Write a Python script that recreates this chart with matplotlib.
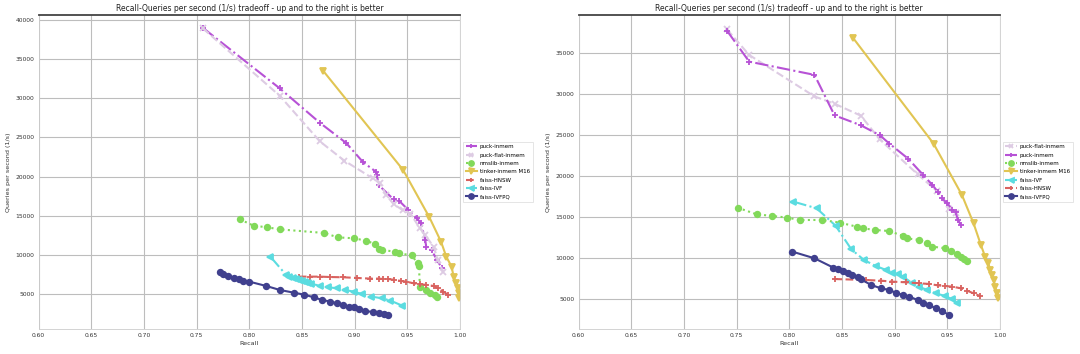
import matplotlib
matplotlib.use("Agg")
import matplotlib.pyplot as plt

TITLE = "Recall-Queries per second (1/s) tradeoff - up and to the right is better"
XLABEL = "Recall"
YLABEL = "Queries per second (1/s)"

# ---------------- left panel data ----------------
L_puck_inmem_r = [0.756, 0.829, 0.867, 0.892, 0.908, 0.920, 0.921, 0.923, 0.937, 0.942, 0.951, 0.959,
                  0.963, 0.967, 0.968, 0.973, 0.978, 0.983]
L_puck_inmem_q = [38970, 31250, 26870, 24290, 21850, 20650, 20200, 18900, 17100, 16950, 15750, 14700,
                  14050, 11950, 11000, 10650, 9400, 8300]

L_puck_flat_r = [0.756, 0.829, 0.867, 0.890, 0.917, 0.924, 0.930, 0.937, 0.946, 0.953, 0.962, 0.967,
                 0.975, 0.979, 0.984]
L_puck_flat_q = [38900, 30300, 24500, 22060, 19800, 19150, 17650, 16500, 15700, 15300, 13400, 12550,
                 11050, 9400, 7900]

L_nmslib_r = [0.791, 0.804, 0.817, 0.829, 0.871, 0.884, 0.899, 0.911, 0.919, 0.923, 0.926, 0.938,
              0.942, 0.954, 0.960, 0.961, 0.962, 0.968, 0.972, 0.976, 0.978]
L_nmslib_q = [14560, 13750, 13540, 13280, 12820, 12260, 12140, 11840, 11420, 10740, 10650, 10440,
              10230, 9970, 8950, 8610, 5950, 5600, 5200, 4850, 4650]

L_tinker_r = [0.870, 0.946, 0.971, 0.982, 0.987, 0.992, 0.994, 0.996, 0.998, 0.999, 0.9994]
L_tinker_q = [33520, 20860, 14810, 11710, 9800, 8530, 7250, 6400, 5770, 5130, 4490]

L_hnsw_r = [0.847, 0.858, 0.867, 0.877, 0.889, 0.902, 0.915, 0.923, 0.927, 0.932, 0.937, 0.944,
            0.949, 0.956, 0.962, 0.968, 0.975, 0.979, 0.984, 0.989]
L_hnsw_q = [7250, 7250, 7250, 7200, 7170, 7080, 7000, 7000, 6950, 6950, 6850, 6700,
            6610, 6400, 6300, 6190, 6060, 5770, 5340, 4920]

L_ivf_r = [0.820, 0.835, 0.838, 0.841, 0.844, 0.847, 0.850, 0.853, 0.856, 0.859, 0.867, 0.875,
           0.883, 0.891, 0.899, 0.907, 0.916, 0.926, 0.934, 0.945]
L_ivf_q = [9800, 7460, 7250, 7040, 6950, 6830, 6700, 6610, 6450, 6320, 6100, 5890,
           5770, 5550, 5340, 5040, 4700, 4490, 4190, 3560]

L_ivfpq_r = [0.772, 0.775, 0.780, 0.785, 0.790, 0.794, 0.800, 0.816, 0.829, 0.842, 0.852, 0.861,
             0.869, 0.877, 0.883, 0.889, 0.895, 0.899, 0.904, 0.910, 0.917, 0.923, 0.928, 0.932]
L_ivfpq_q = [7800, 7590, 7340, 7120, 6910, 6740, 6610, 6060, 5550, 5210, 4960, 4620,
             4280, 4070, 3850, 3600, 3430, 3340, 3130, 2920, 2710, 2580, 2450, 2320]

# ---------------- right panel data ----------------
R_puck_flat_r = [0.741, 0.762, 0.824, 0.843, 0.868, 0.886, 0.922, 0.940, 0.952, 0.958]
R_puck_flat_q = [37820, 34720, 29680, 28790, 27340, 24440, 20200, 18200, 16000, 15500]

R_puck_inmem_r = [0.741, 0.762, 0.824, 0.843, 0.868, 0.886, 0.895, 0.913, 0.927, 0.936, 0.941,
                  0.945, 0.950, 0.955, 0.958, 0.960, 0.963]
R_puck_inmem_q = [37660, 33910, 32300, 27380, 26170, 24960, 23950, 22100, 20150, 18900, 18100,
                  17300, 16700, 15900, 15600, 14700, 14040]

R_nmslib_r = [0.751, 0.769, 0.784, 0.798, 0.810, 0.831, 0.848, 0.864, 0.870, 0.881, 0.895, 0.908,
              0.912, 0.923, 0.931, 0.936, 0.948, 0.954, 0.959, 0.963, 0.966, 0.969]
R_nmslib_q = [16150, 15340, 15140, 14940, 14650, 14650, 14330, 13840, 13640, 13440, 13310, 12710,
              12420, 12220, 11890, 11410, 11210, 10920, 10520, 10190, 9870, 9660]

R_tinker_r = [0.861, 0.937, 0.964, 0.975, 0.982, 0.986, 0.989, 0.991, 0.9925, 0.994, 0.9956, 0.9972, 0.998]
R_tinker_q = [36730, 23950, 17690, 14250, 11610, 10190, 9380, 8570, 7960, 7350, 6540, 5730, 5120]

R_ivf_r = [0.804, 0.826, 0.844, 0.859, 0.871, 0.882, 0.892, 0.898, 0.903, 0.908, 0.917, 0.923,
           0.931, 0.939, 0.948, 0.955, 0.959]
R_ivf_q = [16880, 16070, 13960, 11080, 9790, 9060, 8570, 8240, 8080, 7760, 6950, 6540,
           6140, 5730, 5410, 5000, 4590]

R_hnsw_r = [0.843, 0.873, 0.887, 0.898, 0.911, 0.923, 0.933, 0.941, 0.948, 0.955, 0.963, 0.969,
            0.975, 0.981]
R_hnsw_q = [7470, 7350, 7270, 7150, 7070, 6950, 6870, 6700, 6620, 6540, 6340, 6050,
            5730, 5410]

R_ivfpq_r = [0.803, 0.824, 0.842, 0.846, 0.851, 0.856, 0.860, 0.865, 0.868, 0.878, 0.887, 0.895,
             0.901, 0.908, 0.914, 0.922, 0.927, 0.933, 0.939, 0.945, 0.952]
R_ivfpq_q = [10800, 9990, 8850, 8690, 8450, 8160, 7920, 7760, 7430, 6740, 6340, 6140,
             5810, 5530, 5320, 4920, 4590, 4310, 3910, 3580, 3090]

# ---------------- styles ----------------
STY = {
    "puck-inmem":       dict(color="#b752d6", ls="-.", marker="+"),
    "puck-flat-inmem":  dict(color="#ddcbe3", ls="--", marker="x"),
    "nmslib-inmem":     dict(color="#82d95a", ls=":", marker="o"),
    "tinker-inmem M16": dict(color="#e1c553", ls="-", marker="v"),
    "faiss-HNSW":       dict(color="#d9625f", ls="--", marker="+"),
    "faiss-IVF":        dict(color="#5bdce0", ls="-.", marker="<"),
    "faiss-IVFPQ":      dict(color="#40408e", ls="-", marker="o"),
}

left_series = [
    ("puck-inmem", L_puck_inmem_r, L_puck_inmem_q),
    ("puck-flat-inmem", L_puck_flat_r, L_puck_flat_q),
    ("nmslib-inmem", L_nmslib_r, L_nmslib_q),
    ("tinker-inmem M16", L_tinker_r, L_tinker_q),
    ("faiss-HNSW", L_hnsw_r, L_hnsw_q),
    ("faiss-IVF", L_ivf_r, L_ivf_q),
    ("faiss-IVFPQ", L_ivfpq_r, L_ivfpq_q),
]
right_series = [
    ("puck-flat-inmem", R_puck_flat_r, R_puck_flat_q),
    ("puck-inmem", R_puck_inmem_r, R_puck_inmem_q),
    ("nmslib-inmem", R_nmslib_r, R_nmslib_q),
    ("tinker-inmem M16", R_tinker_r, R_tinker_q),
    ("faiss-IVF", R_ivf_r, R_ivf_q),
    ("faiss-HNSW", R_hnsw_r, R_hnsw_q),
    ("faiss-IVFPQ", R_ivfpq_r, R_ivfpq_q),
]

fig = plt.figure(figsize=(10.8, 3.54), dpi=100)
axL = fig.add_axes([0.0358, 0.0706, 0.3901, 0.8879])
axR = fig.add_axes([0.5357, 0.0706, 0.3901, 0.8879])


def draw(ax, series, ylim, yticks):
    for name, r, q in series:
        s = STY[name]
        mk = s["marker"]
        ms = 4.0 if mk in ("o", "<", "v") else 3.8
        ax.plot(r, q, color=s["color"], linestyle=s["ls"], marker=mk, ms=ms,
                mew=1.3, lw=1.5, label=name)
    ax.set_xlim(0.6, 1.0)
    ax.set_ylim(*ylim)
    ax.set_xticks([0.60, 0.65, 0.70, 0.75, 0.80, 0.85, 0.90, 0.95, 1.00])
    ax.set_xticklabels(["0.60", "0.65", "0.70", "0.75", "0.80", "0.85", "0.90", "0.95", "1.00"])
    ax.set_yticks(yticks)
    ax.grid(True, which="major", color="0.74", linestyle="-", lw=0.8)
    ax.set_axisbelow(True)
    ax.tick_params(labelsize=4.3, length=0, pad=3, colors="#333333")
    for side in ("left", "right", "bottom"):
        ax.spines[side].set_color("0.8")
        ax.spines[side].set_linewidth(0.6)
    ax.spines["top"].set_color("#444444")
    ax.spines["top"].set_linewidth(1.3)
    ax.set_title(TITLE, fontsize=5.5, pad=2.5, color="#222222")
    ax.set_xlabel(XLABEL, fontsize=4.6, labelpad=2, color="#333333")
    ax.set_ylabel(YLABEL, fontsize=4.6, labelpad=3, color="#333333")
    leg = ax.legend(loc="center left", bbox_to_anchor=(1.0, 0.5), prop={"size": 4.0},
                    frameon=True, fancybox=False, handlelength=2.0, borderpad=0.5,
                    labelspacing=0.6, handletextpad=0.6, markerscale=0.9)
    leg.get_frame().set_edgecolor("0.85")
    leg.get_frame().set_linewidth(0.6)


draw(axL, left_series, (570, 40660), [5000, 10000, 15000, 20000, 25000, 30000, 35000, 40000])
draw(axR, right_series, (1390, 39620), [5000, 10000, 15000, 20000, 25000, 30000, 35000])

fig.savefig("out.png", dpi=100)
